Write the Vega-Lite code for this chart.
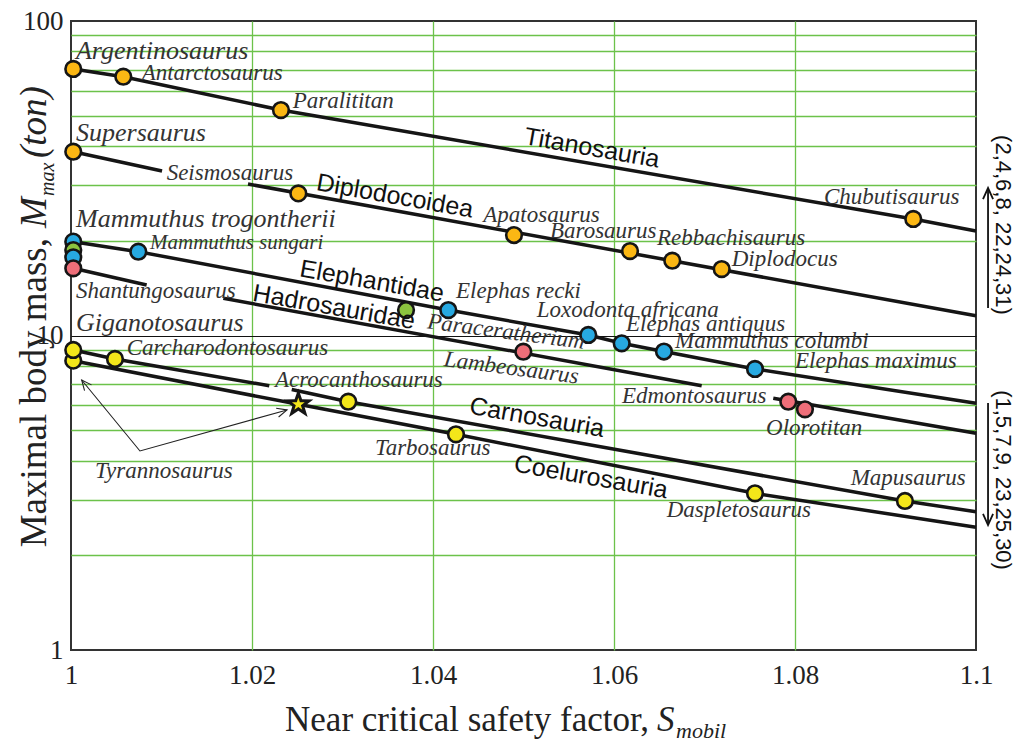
{
  "$schema": "https://vega.github.io/schema/vega-lite/v6.json",
  "width": 905,
  "height": 629,
  "autosize": {"type": "none"},
  "padding": {"left": 71, "top": 21, "right": 42, "bottom": 92},
  "background": "white",
  "config": {"view": {"stroke": "#333333", "strokeWidth": 2}, "font": "Liberation Serif"},
  "datasets": {
    "lines": [
      {"s": "Titanosauria", "o": 0, "x": 1.00025, "y": 70.4},
      {"s": "Titanosauria", "o": 1, "x": 1.00578, "y": 66.5},
      {"s": "Titanosauria", "o": 2, "x": 1.0232, "y": 52.1},
      {"s": "Titanosauria", "o": 3, "x": 1.09307, "y": 23.47},
      {"s": "Titanosauria", "o": 4, "x": 1.1, "y": 21.49},
      {"s": "Supersaurus", "o": 0, "x": 1.00025, "y": 38.4},
      {"s": "Supersaurus", "o": 1, "x": 1.01006, "y": 33.36},
      {"s": "Diplodocoidea", "o": 0, "x": 1.01956, "y": 30.31},
      {"s": "Diplodocoidea", "o": 1, "x": 1.1, "y": 11.56},
      {"s": "Elephantidae", "o": 0, "x": 1.00025, "y": 19.88},
      {"s": "Elephantidae", "o": 1, "x": 1.00744, "y": 18.47},
      {"s": "Elephantidae", "o": 2, "x": 1.04169, "y": 12.05},
      {"s": "Elephantidae", "o": 3, "x": 1.05716, "y": 10.04},
      {"s": "Elephantidae", "o": 4, "x": 1.06085, "y": 9.445},
      {"s": "Elephantidae", "o": 5, "x": 1.06552, "y": 8.894},
      {"s": "Elephantidae", "o": 6, "x": 1.07558, "y": 7.826},
      {"s": "Elephantidae", "o": 7, "x": 1.1, "y": 6.086},
      {"s": "Shantungosaurus", "o": 0, "x": 1.00025, "y": 16.36},
      {"s": "Shantungosaurus", "o": 1, "x": 1.00836, "y": 14.47},
      {"s": "Hadrosauridae", "o": 0, "x": 1.01683, "y": 13.13},
      {"s": "Hadrosauridae", "o": 1, "x": 1.06969, "y": 6.924},
      {"s": "Edmontosaurus", "o": 0, "x": 1.0776, "y": 6.314},
      {"s": "Edmontosaurus", "o": 1, "x": 1.1, "y": 4.887},
      {"s": "Carnosauria A", "o": 0, "x": 1.00025, "y": 8.993},
      {"s": "Carnosauria A", "o": 1, "x": 1.00486, "y": 8.421},
      {"s": "Carnosauria A", "o": 2, "x": 1.02191, "y": 6.924},
      {"s": "Carnosauria B", "o": 0, "x": 1.02439, "y": 6.734},
      {"s": "Carnosauria B", "o": 1, "x": 1.03064, "y": 6.159},
      {"s": "Carnosauria B", "o": 2, "x": 1.09215, "y": 2.977},
      {"s": "Carnosauria B", "o": 3, "x": 1.1, "y": 2.753},
      {"s": "Coelurosauria", "o": 0, "x": 1.00025, "y": 8.317},
      {"s": "Coelurosauria", "o": 1, "x": 1.02512, "y": 6.042},
      {"s": "Coelurosauria", "o": 2, "x": 1.04254, "y": 4.851},
      {"s": "Coelurosauria", "o": 3, "x": 1.07558, "y": 3.149},
      {"s": "Coelurosauria", "o": 4, "x": 1.1, "y": 2.455}
    ],
    "tyr": [
      {"o": 0, "x": 1.00118, "y": 7.219},
      {"o": 1, "x": 1.00762, "y": 4.293},
      {"o": 2, "x": 1.02387, "y": 5.797}
    ],
    "varrows": [
      {"s": "up", "o": 0, "x": 1.10133, "y": 12.23},
      {"s": "up", "o": 1, "x": 1.10133, "y": 29.44},
      {"s": "down", "o": 0, "x": 1.10133, "y": 6.1},
      {"s": "down", "o": 1, "x": 1.10133, "y": 2.497}
    ],
    "heads": [
      {"h": "t1", "x": 1.00118, "y": 7.219},
      {"h": "t2", "x": 1.02387, "y": 5.797},
      {"h": "up", "x": 1.10133, "y": 29.44},
      {"h": "down", "x": 1.10133, "y": 2.497}
    ],
    "dots": [
      {"name": "Argentinosaurus", "group": "Sauropoda", "x": 1.00025, "y": 70.4},
      {"name": "Antarctosaurus", "group": "Sauropoda", "x": 1.00578, "y": 66.5},
      {"name": "Paralititan", "group": "Sauropoda", "x": 1.0232, "y": 52.1},
      {"name": "Chubutisaurus", "group": "Sauropoda", "x": 1.09307, "y": 23.47},
      {"name": "Supersaurus", "group": "Sauropoda", "x": 1.00025, "y": 38.4},
      {"name": "Seismosaurus", "group": "Sauropoda", "x": 1.02512, "y": 28.3},
      {"name": "Apatosaurus", "group": "Sauropoda", "x": 1.04895, "y": 20.87},
      {"name": "Barosaurus", "group": "Sauropoda", "x": 1.06177, "y": 18.56},
      {"name": "Rebbachisaurus", "group": "Sauropoda", "x": 1.06644, "y": 17.29},
      {"name": "Diplodocus", "group": "Sauropoda", "x": 1.0719, "y": 16.27},
      {"name": "Mammuthus trogontherii", "group": "Elephantidae", "x": 1.00025, "y": 19.88},
      {"name": "unlabelled mammal", "group": "Other mammal", "x": 1.00025, "y": 18.7},
      {"name": "unlabelled elephant", "group": "Elephantidae", "x": 1.00025, "y": 17.73},
      {"name": "Shantungosaurus", "group": "Hadrosauridae", "x": 1.00025, "y": 16.36},
      {"name": "Mammuthus sungari", "group": "Elephantidae", "x": 1.00744, "y": 18.47},
      {"name": "Paraceratherium", "group": "Other mammal", "x": 1.03702, "y": 12.05},
      {"name": "Elephas recki", "group": "Elephantidae", "x": 1.04169, "y": 12.05},
      {"name": "Loxodonta africana", "group": "Elephantidae", "x": 1.05716, "y": 10.04},
      {"name": "Elephas antiquus", "group": "Elephantidae", "x": 1.06085, "y": 9.445},
      {"name": "Mammuthus columbi", "group": "Elephantidae", "x": 1.06552, "y": 8.894},
      {"name": "Elephas maximus", "group": "Elephantidae", "x": 1.07558, "y": 7.826},
      {"name": "Lambeosaurus", "group": "Hadrosauridae", "x": 1.04998, "y": 8.882},
      {"name": "Edmontosaurus", "group": "Hadrosauridae", "x": 1.07926, "y": 6.159},
      {"name": "Olorotitan", "group": "Hadrosauridae", "x": 1.0811, "y": 5.826},
      {"name": "Tyrannosaurus", "group": "Theropoda", "x": 1.00025, "y": 8.317},
      {"name": "Giganotosaurus", "group": "Theropoda", "x": 1.00025, "y": 8.993},
      {"name": "Carcharodontosaurus", "group": "Theropoda", "x": 1.00486, "y": 8.421},
      {"name": "Acrocanthosaurus", "group": "Theropoda", "x": 1.03064, "y": 6.159},
      {"name": "Tarbosaurus", "group": "Theropoda", "x": 1.04254, "y": 4.851},
      {"name": "Daspletosaurus", "group": "Theropoda", "x": 1.07558, "y": 3.149},
      {"name": "Mapusaurus", "group": "Theropoda", "x": 1.09215, "y": 2.977}
    ],
    "star": [
      {"name": "Tyrannosaurus", "x": 1.02512, "y": 6.042}
    ],
    "labels": [
      {"name": "Antarctosaurus", "x": 1.00781, "y": 65.16},
      {"name": "Paralititan", "x": 1.0245, "y": 52.9},
      {"name": "Seismosaurus", "x": 1.01057, "y": 31.22},
      {"name": "Chubutisaurus", "x": 1.0832, "y": 26.19},
      {"name": "Apatosaurus", "x": 1.04556, "y": 23.0},
      {"name": "Barosaurus", "x": 1.05293, "y": 20.46},
      {"name": "Rebbachisaurus", "x": 1.06475, "y": 19.33},
      {"name": "Diplodocus", "x": 1.073, "y": 16.63},
      {"name": "Shantungosaurus", "x": 1.00055, "y": 13.16},
      {"name": "Carcharodontosaurus", "x": 1.00615, "y": 8.67},
      {"name": "Acrocanthosaurus", "x": 1.02254, "y": 6.883},
      {"name": "Tyrannosaurus", "x": 1.00265, "y": 3.523},
      {"name": "Elephas recki", "x": 1.04254, "y": 13.13},
      {"name": "Loxodonta africana", "x": 1.05146, "y": 11.48},
      {"name": "Elephas antiquus", "x": 1.06133, "y": 10.36},
      {"name": "Mammuthus columbi", "x": 1.06674, "y": 9.127},
      {"name": "Elephas maximus", "x": 1.08, "y": 7.899},
      {"name": "Edmontosaurus", "x": 1.06088, "y": 6.1},
      {"name": "Olorotitan", "x": 1.0768, "y": 4.826},
      {"name": "Tarbosaurus", "x": 1.03359, "y": 4.169},
      {"name": "Mapusaurus", "x": 1.08615, "y": 3.346},
      {"name": "Daspletosaurus", "x": 1.06582, "y": 2.654}
    ],
    "labelsBig": [
      {"name": "Argentinosaurus", "x": 1.00055, "y": 75.71},
      {"name": "Supersaurus", "x": 1.00055, "y": 41.4},
      {"name": "Mammuthus trogontherii", "x": 1.00055, "y": 22.05},
      {"name": "Giganotosaurus", "x": 1.00055, "y": 10.3}
    ],
    "labelsSmall": [
      {"name": "Mammuthus sungari", "x": 1.00873, "y": 18.84}
    ],
    "slanted": [
      {"name": "Paraceratherium", "x": 1.0393, "y": 10.54},
      {"name": "Lambeosaurus", "x": 1.04114, "y": 8.0}
    ],
    "groups": [
      {"name": "Titanosauria", "x": 1.05757, "y": 39.47},
      {"name": "Diplodocoidea", "x": 1.0358, "y": 27.77},
      {"name": "Elephantidae", "x": 1.03326, "y": 14.9},
      {"name": "Hadrosauridae", "x": 1.02906, "y": 12.32},
      {"name": "Carnosauria", "x": 1.05149, "y": 5.487},
      {"name": "Coelurosauria", "x": 1.05746, "y": 3.549}
    ],
    "notes": [
      {"name": "(2,4,6,8, 22,24,31)", "x": 1.10298, "y": 22.46},
      {"name": "(1,5,7,9, 23,25,30)", "x": 1.10298, "y": 3.471}
    ],
    "xtitle": [
      {"t": "Near critical safety factor,", "x": 1.02365, "y": 0.5526}
    ],
    "xtitleS": [
      {"t": "S", "x": 1.06475, "y": 0.5526}
    ],
    "xtitleSub": [
      {"t": "mobil", "x": 1.06685, "y": 0.525}
    ],
    "ytitleMain": [
      {"t": "Maximal body mass,", "x": 0.997238, "y": 20.42}
    ],
    "ytitleItal": [
      {"t": "M", "x": 0.997238, "y": 21.97},
      {"t": "(ton)", "x": 0.997238, "y": 36.68}
    ],
    "ytitleSub": [
      {"t": "max", "x": 0.998122, "y": 27.77}
    ]
  },
  "encoding": {
    "x": {
      "field": "x",
      "type": "quantitative",
      "scale": {"domain": [1, 1.1], "nice": false, "zero": false},
      "axis": {
        "values": [1, 1.02, 1.04, 1.06, 1.08, 1.1],
        "format": "~g",
        "title": null,
        "ticks": false,
        "domain": false,
        "grid": true,
        "gridColor": "#6cc24a",
        "gridWidth": 1.3,
        "gridOpacity": {"condition": {"test": "datum.value < 1.001 || datum.value > 1.099", "value": 0}, "value": 1},
        "labelFont": "Liberation Serif",
        "labelFontSize": 27,
        "labelColor": "#222222",
        "labelPadding": 12,
        "labelDx": 6,
        "labelFlush": false,
        "labelBound": false,
        "labelOverlap": false
      }
    },
    "y": {
      "field": "y",
      "type": "quantitative",
      "scale": {"type": "log", "domain": [1, 100], "nice": false},
      "axis": {
        "values": [1, 2, 3, 4, 5, 6, 7, 8, 9, 10, 20, 30, 40, 50, 60, 70, 80, 90, 100],
        "labelExpr": "datum.value == 1 ? '1' : datum.value == 10 ? '10' : datum.value == 100 ? '100' : ''",
        "title": null,
        "ticks": false,
        "domain": false,
        "grid": true,
        "gridColor": {"condition": {"test": "datum.value == 10", "value": "#111111"}, "value": "#6cc24a"},
        "gridWidth": {"condition": {"test": "datum.value == 10", "value": 1.1}, "value": 1.3},
        "gridOpacity": {"condition": {"test": "datum.value == 1 || datum.value == 100", "value": 0}, "value": 1},
        "labelFont": "Liberation Serif",
        "labelFontSize": 27,
        "labelColor": "#222222",
        "labelPadding": 8,
        "labelDy": 3,
        "labelOverlap": false,
        "labelBound": false
      }
    }
  },
  "layer": [
    {
      "data": {"name": "lines"},
      "mark": {"type": "line", "color": "#151515", "strokeWidth": 3.5, "strokeCap": "butt"},
      "encoding": {"detail": {"field": "s"}, "order": {"field": "o", "type": "quantitative"}}
    },
    {
      "data": {"name": "tyr"},
      "mark": {"type": "line", "color": "#222222", "strokeWidth": 1.1},
      "encoding": {"order": {"field": "o", "type": "quantitative"}}
    },
    {
      "data": {"name": "varrows"},
      "mark": {"type": "line", "color": "#111111", "strokeWidth": 1.8},
      "encoding": {"detail": {"field": "s"}, "order": {"field": "o", "type": "quantitative"}}
    },
    {
      "data": {"name": "heads"},
      "transform": [{"filter": "datum.h == 't1'"}],
      "mark": {"type": "point", "shape": "M-1,-0.45L0,0L-1,0.45", "filled": false, "color": "#222222", "strokeWidth": 1.1, "size": 400, "angle": 230.6, "opacity": 1}
    },
    {
      "data": {"name": "heads"},
      "transform": [{"filter": "datum.h == 't2'"}],
      "mark": {"type": "point", "shape": "M-1,-0.45L0,0L-1,0.45", "filled": false, "color": "#222222", "strokeWidth": 1.1, "size": 400, "angle": 344.4, "opacity": 1}
    },
    {
      "data": {"name": "heads"},
      "transform": [{"filter": "datum.h == 'up'"}],
      "mark": {"type": "point", "shape": "M-1,-0.45L0,0L-1,0.45", "filled": false, "color": "#111111", "strokeWidth": 1.8, "size": 500, "angle": 270, "opacity": 1}
    },
    {
      "data": {"name": "heads"},
      "transform": [{"filter": "datum.h == 'down'"}],
      "mark": {"type": "point", "shape": "M-1,-0.45L0,0L-1,0.45", "filled": false, "color": "#111111", "strokeWidth": 1.8, "size": 500, "angle": 90, "opacity": 1}
    },
    {
      "data": {"name": "dots"},
      "mark": {"type": "point", "shape": "circle", "filled": true, "stroke": "#151515", "strokeWidth": 2.6, "size": 245, "opacity": 1},
      "encoding": {
        "fill": {
          "field": "group",
          "type": "nominal",
          "scale": {
            "domain": ["Sauropoda", "Elephantidae", "Other mammal", "Hadrosauridae", "Theropoda"],
            "range": ["#fbb714", "#27a9e1", "#8cc43f", "#ee6e79", "#f3e61a"]
          },
          "legend": null
        }
      }
    },
    {
      "data": {"name": "star"},
      "mark": {"type": "point", "shape": "M0,-1L0.235,-0.324L0.951,-0.309L0.38,0.124L0.588,0.809L0,0.4L-0.588,0.809L-0.38,0.124L-0.951,-0.309L-0.235,-0.324Z", "filled": true, "color": "#151515", "size": 1000, "opacity": 1}
    },
    {
      "data": {"name": "star"},
      "mark": {"type": "point", "shape": "M0,-1L0.235,-0.324L0.951,-0.309L0.38,0.124L0.588,0.809L0,0.4L-0.588,0.809L-0.38,0.124L-0.951,-0.309L-0.235,-0.324Z", "filled": true, "color": "#f3e61a", "size": 180, "opacity": 1}
    },
    {
      "data": {"name": "labels"},
      "mark": {"type": "text", "font": "Liberation Serif", "fontStyle": "italic", "fontSize": 23, "align": "left", "baseline": "alphabetic", "color": "#333333"},
      "encoding": {"text": {"field": "name"}}
    },
    {
      "data": {"name": "labelsBig"},
      "mark": {"type": "text", "font": "Liberation Serif", "fontStyle": "italic", "fontSize": 26, "align": "left", "baseline": "alphabetic", "color": "#333333"},
      "encoding": {"text": {"field": "name"}}
    },
    {
      "data": {"name": "labelsSmall"},
      "mark": {"type": "text", "font": "Liberation Serif", "fontStyle": "italic", "fontSize": 21, "align": "left", "baseline": "alphabetic", "color": "#333333"},
      "encoding": {"text": {"field": "name"}}
    },
    {
      "data": {"name": "slanted"},
      "mark": {"type": "text", "font": "Liberation Serif", "fontStyle": "italic", "fontSize": 23, "align": "left", "baseline": "alphabetic", "color": "#333333", "angle": 7.5},
      "encoding": {"text": {"field": "name"}}
    },
    {
      "data": {"name": "groups"},
      "mark": {"type": "text", "font": "Liberation Sans", "fontSize": 25, "align": "center", "baseline": "middle", "color": "#111111", "angle": 10},
      "encoding": {"text": {"field": "name"}}
    },
    {
      "data": {"name": "notes"},
      "mark": {"type": "text", "font": "Liberation Sans", "fontSize": 22, "align": "center", "baseline": "middle", "color": "#111111", "angle": 90},
      "encoding": {"text": {"field": "name"}}
    },
    {
      "data": {"name": "xtitle"},
      "mark": {"type": "text", "font": "Liberation Serif", "fontSize": 35, "align": "left", "baseline": "alphabetic", "color": "#222222"},
      "encoding": {"text": {"field": "t"}}
    },
    {
      "data": {"name": "xtitleS"},
      "mark": {"type": "text", "font": "Liberation Serif", "fontStyle": "italic", "fontSize": 35, "align": "left", "baseline": "alphabetic", "color": "#222222"},
      "encoding": {"text": {"field": "t"}}
    },
    {
      "data": {"name": "xtitleSub"},
      "mark": {"type": "text", "font": "Liberation Serif", "fontStyle": "italic", "fontSize": 22, "align": "left", "baseline": "alphabetic", "color": "#222222"},
      "encoding": {"text": {"field": "t"}}
    },
    {
      "data": {"name": "ytitleMain"},
      "mark": {"type": "text", "font": "Liberation Serif", "fontSize": 37, "align": "right", "baseline": "alphabetic", "color": "#222222", "angle": 270},
      "encoding": {"text": {"field": "t"}}
    },
    {
      "data": {"name": "ytitleItal"},
      "mark": {"type": "text", "font": "Liberation Serif", "fontStyle": "italic", "fontSize": 37, "align": "left", "baseline": "alphabetic", "color": "#222222", "angle": 270},
      "encoding": {"text": {"field": "t"}}
    },
    {
      "data": {"name": "ytitleSub"},
      "mark": {"type": "text", "font": "Liberation Serif", "fontStyle": "italic", "fontSize": 20, "align": "left", "baseline": "alphabetic", "color": "#222222", "angle": 270},
      "encoding": {"text": {"field": "t"}}
    }
  ]
}
